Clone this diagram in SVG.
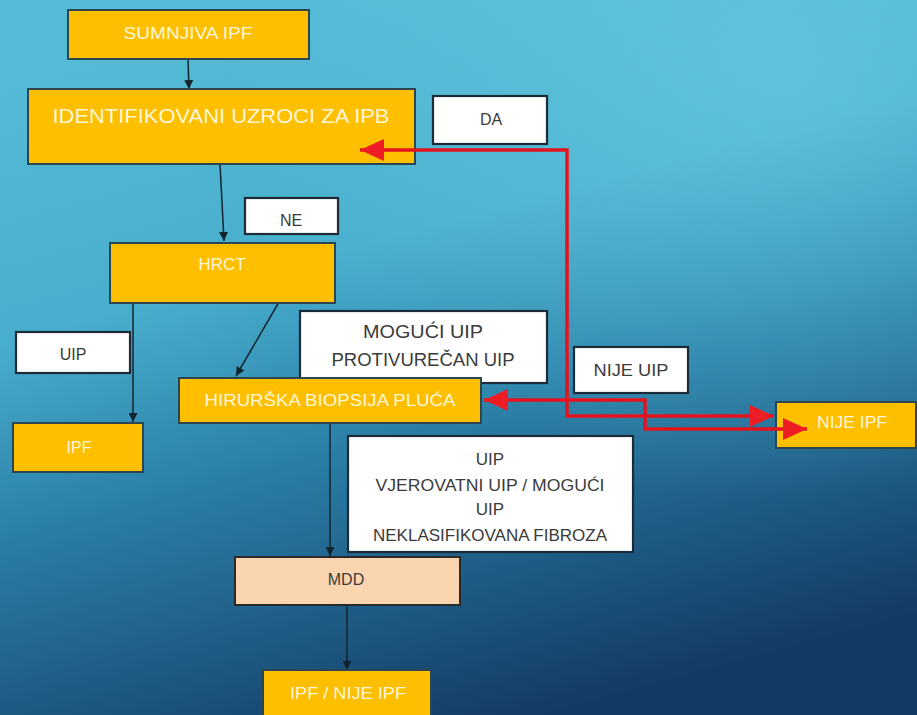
<svg xmlns="http://www.w3.org/2000/svg" width="917" height="715" viewBox="0 0 917 715">
<defs>
<linearGradient id="bg" x1="0.25" y1="0" x2="0.6" y2="1">
<stop offset="0" stop-color="#55bbd6"/>
<stop offset="0.35" stop-color="#48aecd"/>
<stop offset="0.6" stop-color="#2a7ea6"/>
<stop offset="1" stop-color="#133a63"/>
</linearGradient>
<radialGradient id="glow" cx="0.85" cy="0.1" r="0.6">
<stop offset="0" stop-color="#6ccfe3" stop-opacity="0.6"/>
<stop offset="1" stop-color="#6ccfe3" stop-opacity="0"/>
</radialGradient>
<marker id="ah" viewBox="0 0 10 10" refX="10" refY="5" markerWidth="9" markerHeight="9" markerUnits="userSpaceOnUse" orient="auto">
<path d="M0,0 L10,5 L0,10 Z" fill="#14242e"/>
</marker>
<marker id="rh" viewBox="0 0 24 22" refX="24" refY="11" markerWidth="24" markerHeight="22" markerUnits="userSpaceOnUse" orient="auto-start-reverse">
<path d="M0,0 L24,11 L0,22 Z" fill="#ee1c24"/>
</marker>
<style>
.org{fill:#fdbf00;stroke:#2b4650;stroke-width:2}
.wht{fill:#ffffff;stroke:#1b2b38;stroke-width:2.2}
.mdd{fill:#fbd4b0;stroke:#2a2a2a;stroke-width:2}
.to{font-family:"Liberation Sans",Arial,sans-serif;fill:#fff6d8;text-anchor:middle}
.tw{font-family:"Liberation Sans",Arial,sans-serif;fill:#3b3b3b;text-anchor:middle}
.blk{fill:none;stroke:#14242e;stroke-width:1.5;marker-end:url(#ah)}
.red{fill:none;stroke:#e3141e;stroke-width:3.5;marker-start:url(#rh);marker-end:url(#rh)}
</style>
</defs>
<rect width="917" height="715" fill="url(#bg)"/>
<rect width="917" height="715" fill="url(#glow)"/>

<g id="connectors">
<line class="blk" x1="188" y1="59" x2="189" y2="89"/>
<line class="blk" x1="220" y1="164" x2="224" y2="241"/>
<line class="blk" x1="133" y1="296" x2="133" y2="422"/>
<line class="blk" x1="290" y1="283" x2="236" y2="376"/>
<line class="blk" x1="330" y1="423" x2="330" y2="556"/>
<line class="blk" x1="347" y1="605" x2="347" y2="670"/>
</g>

<g id="n-sumnjiva">
<rect class="org" x="68" y="10" width="241" height="49"/>
<text class="to" x="188" y="39" font-size="17" textLength="129" lengthAdjust="spacingAndGlyphs">SUMNJIVA IPF</text>
</g>
<g id="n-ident">
<rect class="org" x="28" y="89" width="387" height="75"/>
<text class="to" x="221" y="123" font-size="21" textLength="337" lengthAdjust="spacingAndGlyphs">IDENTIFIKOVANI UZROCI ZA IPB</text>
</g>
<g id="n-da">
<rect class="wht" x="433" y="96" width="114" height="48"/>
<text class="tw" x="491" y="125" font-size="16">DA</text>
</g>
<g id="n-ne">
<rect class="wht" x="245" y="198" width="93" height="36"/>
<text class="tw" x="291" y="226" font-size="16">NE</text>
</g>
<g id="n-hrct">
<rect class="org" x="110" y="243" width="225" height="60"/>
<text class="to" x="222" y="270" font-size="16" textLength="47" lengthAdjust="spacingAndGlyphs">HRCT</text>
</g>
<g id="n-uip">
<rect class="wht" x="16" y="332" width="114" height="41"/>
<text class="tw" x="73" y="360" font-size="16">UIP</text>
</g>
<g id="n-ipf">
<rect class="org" x="13" y="423" width="130" height="49"/>
<text class="to" x="79" y="453" font-size="16">IPF</text>
</g>
<g id="n-moguci">
<rect class="wht" x="300" y="311" width="247" height="72"/>
<text class="tw" x="423" y="338" font-size="18" textLength="120" lengthAdjust="spacingAndGlyphs">MOGUĆI UIP</text>
<text class="tw" x="423" y="366" font-size="18" textLength="183" lengthAdjust="spacingAndGlyphs">PROTIVUREČAN UIP</text>
</g>
<g id="n-nijeuip">
<rect class="wht" x="574" y="347" width="114" height="46"/>
<text class="tw" x="631" y="376" font-size="16" textLength="75" lengthAdjust="spacingAndGlyphs">NIJE UIP</text>
</g>
<g id="n-biopsija">
<rect class="org" x="179" y="378" width="302" height="45"/>
<text class="to" x="330" y="406" font-size="17" textLength="251" lengthAdjust="spacingAndGlyphs">HIRURŠKA BIOPSIJA PLUĆA</text>
</g>
<g id="n-nijeipf">
<rect class="org" x="776" y="402" width="140" height="46"/>
<text class="to" x="852" y="428" font-size="16" textLength="70" lengthAdjust="spacingAndGlyphs">NIJE IPF</text>
</g>
<g id="n-uiplist">
<rect class="wht" x="348" y="436" width="285" height="116"/>
<text class="tw" x="490" y="465" font-size="17">UIP</text>
<text class="tw" x="490" y="491" font-size="17" textLength="229" lengthAdjust="spacingAndGlyphs">VJEROVATNI UIP / MOGUĆI</text>
<text class="tw" x="490" y="515" font-size="17">UIP</text>
<text class="tw" x="490" y="541" font-size="17" textLength="234" lengthAdjust="spacingAndGlyphs">NEKLASIFIKOVANA FIBROZA</text>
</g>
<g id="n-mdd">
<rect class="mdd" x="235" y="557" width="225" height="48"/>
<text class="tw" x="346" y="585" font-size="16" fill="#2a2a2a">MDD</text>
</g>
<g id="n-final">
<rect class="org" x="263" y="670" width="168" height="50"/>
<text class="to" x="348" y="699" font-size="16" textLength="116" lengthAdjust="spacingAndGlyphs">IPF / NIJE IPF</text>
</g>

<g id="red-connectors">
<path class="red" d="M360,150 H567 V416 H774"/>
<path class="red" d="M484,400 H645 V429 H807"/>
</g>
</svg>
